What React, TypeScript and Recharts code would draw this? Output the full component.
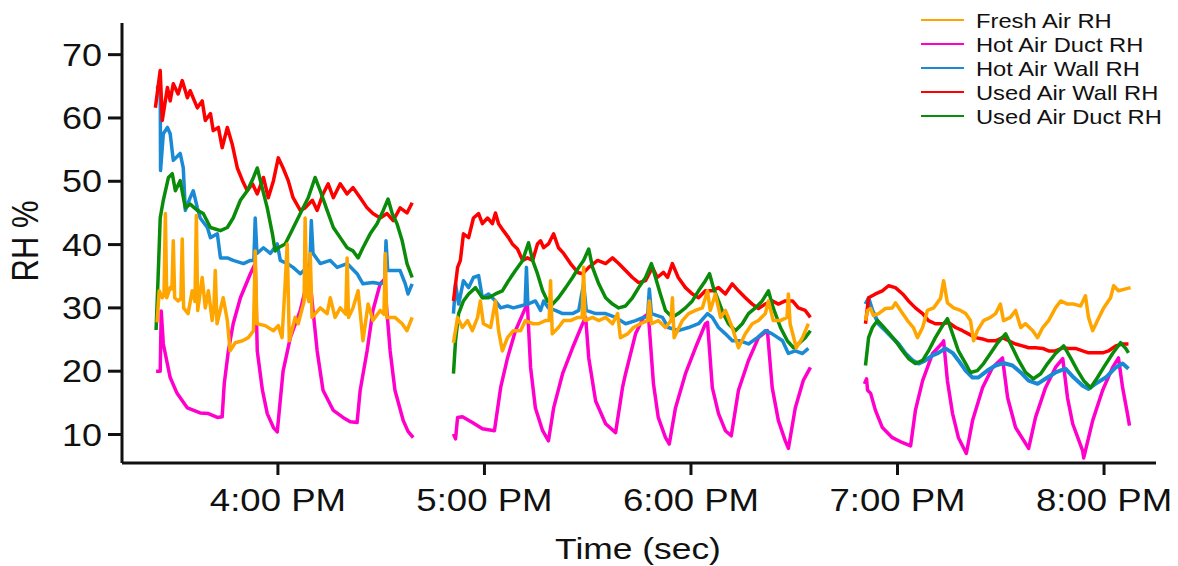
// RH over the afternoon: five sensors, three logging sessions with gaps between them.
import { LineChart, Line, XAxis, YAxis } from "recharts";

type Pt = [number, number]; // [minutes after 3:00 PM, RH %]

const SERIES_NAMES = ["Fresh Air RH", "Hot Air Duct RH", "Hot Air Wall RH", "Used Air Wall RH", "Used Air Duct RH"];
const SERIES_COLORS = ["#FFA500", "#FF00CC", "#1A8AD4", "#FF0000", "#0A8C0A"];
const X_TICKS = [60, 120, 180, 240, 300];
const Y_TICKS = [10, 20, 30, 40, 50, 60, 70];

// Fresh Air RH
const freshAir1: Pt[] = [[24.9,27.7],[25.5,32.7],[26.4,31.6],[26.9,32],[27.3,44.9],[27.7,31.6],[28.7,33.2],[29.2,33],[29.6,40.6],[30.0,31.6],[31.0,31.1],[31.8,31.5],[32.2,40.9],[32.6,30],[33.9,29.1],[35.1,32.7],[35.9,31],[36.3,44.6],[36.7,29.6],[38.0,34.8],[38.9,30],[39.8,32.7],[40.9,28],[41.4,30],[41.8,35.9],[42.3,27.5],[44.1,31.6],[45.3,28],[46.1,23.2],[47.6,24.5],[49.7,24.8],[51.4,25.3],[52.9,26.4],[53.4,39],[53.9,27.5],[56.3,27.2],[58.7,26.4],[60.1,27.2],[61.2,25.3],[62.1,33.8],[62.7,40.1],[63.3,24.8],[65.0,28.5],[65.9,27.5],[67.1,30],[67.6,31],[67.9,44.2],[68.4,32.2],[69.0,31],[69.4,38.6],[69.9,28.5],[72.3,30],[74.3,29.1],[75.2,31.6],[76.6,28.5],[78.1,30],[79.7,29],[80.1,37.9],[80.5,28.5],[81.8,30],[83.3,32.7],[84.7,24.8],[86.2,30.6],[87.6,28],[89.7,29.6],[90.8,29],[91.2,38.6],[91.6,28.5],[94.0,28.5],[96.1,27.5],[97.5,26.4],[99.0,28.5]];
const freshAir2: Pt[] = [[111.0,24.5],[112.2,28.5],[113.6,26.9],[115.1,28],[116.5,26.4],[118.0,28.5],[118.8,31.1],[119.7,27.5],[121.8,26.9],[123.2,31.1],[124.1,26.4],[125.2,23.2],[126.7,25.3],[128.4,26.4],[130.5,26.4],[131.9,28],[134.0,27.5],[135.7,27.5],[137.7,28],[138.8,28],[139.2,34.3],[139.7,25.9],[141.5,26.9],[143.0,28],[145.0,28],[147.1,28.5],[148.4,28.5],[148.8,36.4],[149.2,28],[151.4,28.5],[153.2,28],[155.2,28.5],[157.2,27.5],[158.7,29.1],[159.5,25.3],[161.6,25.9],[163.3,26.9],[165.3,27.5],[167.4,28],[167.9,31.1],[168.5,27.5],[170.5,28],[172.6,26.9],[174.2,28],[174.6,31.6],[175.1,25.3],[177.5,28],[179.3,29.1],[181.3,29.6],[183.3,30],[184.8,32.7],[185.6,29.6],[187.1,32.2],[188.6,28.5],[190.0,29.6],[192.0,26.9],[193.8,23.7],[195.8,25.9],[197.8,27.5],[199.6,28],[201.6,29.1],[202.5,31.1],[203.9,28],[206.0,28],[207.9,28.5],[208.3,32.2],[208.8,27.5],[210.6,23.7],[212.4,25.3],[214.1,27.5]];
const freshAir3: Pt[] = [[230.7,28],[231.3,29.6],[232.2,29.9],[233.0,28.8],[234.5,29.1],[236.5,29.9],[238.5,30],[239.4,30.8],[240.9,29.6],[242.9,28],[244.6,26.9],[245.8,25.3],[247.3,26.9],[248.7,29.6],[250.5,30],[252.5,31.5],[253.4,34.3],[254.5,30.8],[256.3,30],[258.3,29.6],[259.8,29.1],[261.2,28],[262.1,24.8],[263.2,26.4],[265.0,28],[267.0,28.5],[268.5,29.1],[269.9,30.6],[270.8,28],[272.8,28.5],[274.3,29.6],[275.8,26.9],[277.2,27.5],[279.3,26.4],[280.7,25.3],[282.2,26.9],[283.9,28],[285.9,30],[287.4,31.1],[289.4,30.6],[291.2,30.6],[293.2,30.3],[294.6,31.9],[295.5,28.5],[296.7,26.4],[298.1,28],[299.9,30],[301.9,31.6],[302.8,33.5],[304.2,32.7],[306.3,33],[307.7,33.2]];

// Hot Air Duct RH
const hotDuct1: Pt[] = [[24.6,20],[25.8,20],[26.1,29.5],[26.7,24.3],[28.7,19],[30.7,16.5],[33.7,14.2],[37.4,13.4],[39.8,13.3],[42.4,12.7],[43.8,12.8],[44.4,18],[45.6,23.2],[47.0,27.5],[49.1,31.6],[52.0,35.4],[53.4,37],[54.0,23.2],[55.5,17],[56.9,13.3],[58.7,11.1],[59.8,10.4],[61.5,20],[63.6,25.3],[66.5,29.6],[69.1,35.5],[71.4,23.2],[73.1,17],[76.1,13.8],[78.9,12.7],[81.0,12],[83.0,11.9],[83.9,17],[85.9,23.2],[87.6,29.6],[89.7,33.8],[90.9,34.5],[92.6,23.2],[94.0,17],[96.4,12.2],[97.8,10.5],[99.3,9.5]];
const hotDuct2: Pt[] = [[111.0,10.1],[111.6,9.3],[112.2,12.7],[113.6,12.8],[116.5,11.9],[119.4,10.9],[122.9,10.6],[124.7,17.4],[126.7,22.1],[129.0,26.4],[131.9,30],[132.5,30.3],[133.4,20.6],[134.8,14.2],[136.9,10.6],[138.6,9.0],[140.1,14.2],[142.7,19.6],[145.6,23.7],[148.5,27.5],[149.4,28.5],[150.3,22.1],[152.3,15.3],[155.2,11.7],[158.1,10.3],[160.1,17.4],[161.0,19.6],[163.9,25.9],[166.2,28.5],[167.6,29.1],[169.1,18],[170.5,12.7],[172.6,9.5],[173.7,8.5],[175.5,14.2],[178.4,19.6],[181.3,23.7],[184.2,27.5],[184.8,27.7],[186.2,17.4],[188.0,13.3],[190.0,10.6],[191.7,9.8],[193.8,17],[196.7,21.7],[199.6,25.3],[202.2,26.4],[203.6,17.4],[205.4,12.2],[207.4,9.0],[208.3,7.8],[210.3,14.2],[212.6,18.5],[214.7,20.6]];
const hotDuct3: Pt[] = [[230.4,18],[231.0,18.8],[231.3,17],[232.2,16.5],[233.6,13.8],[235.6,11.1],[238.5,9.5],[241.5,8.7],[243.8,8.2],[245.2,13.8],[247.3,18.5],[250.2,22.8],[253.1,24.5],[253.4,24.8],[254.5,18.5],[256.0,13.3],[257.7,9.5],[260.0,7.0],[261.8,12.2],[264.7,17.4],[267.6,20.6],[270.5,22.1],[272.0,15.8],[274.3,11.1],[278.1,7.8],[280.1,12.7],[283.0,17.4],[285.9,20.6],[288.0,22],[289.4,15.8],[290.9,11.7],[293.8,7.4],[294.1,6.3],[296.7,12.2],[299.6,17],[302.5,20.6],[304.2,22.1],[305.4,17.4],[306.8,13.3],[307.4,11.4]];

// Hot Air Wall RH
const hotWall1: Pt[] = [[24.9,64.6],[25.8,65.9],[25.9,51.7],[26.7,57.5],[27.9,58.5],[28.7,57.5],[29.6,53.3],[31.6,54.4],[32.5,52.1],[33.1,45.4],[34.5,47.4],[35.4,48.5],[36.6,45.8],[37.4,44.2],[39.5,42.7],[40.4,41.1],[42.4,41.7],[43.3,37.9],[45.3,37.9],[47.0,37.5],[50.0,37],[52.0,37.5],[53.0,37.5],[53.4,44.2],[53.9,38.6],[55.8,39.5],[57.8,38.6],[59.8,40.1],[60.7,37.5],[62.7,37],[64.4,36.4],[66.5,35.4],[68.5,36.4],[69.3,37],[69.7,43.8],[70.2,38.6],[72.3,37],[75.2,37.5],[77.2,36.4],[80.1,37],[83.0,35.4],[84.7,33.8],[87.6,34],[89.7,33.8],[91.0,34],[91.4,40.6],[91.9,35.9],[95.5,35.9],[97.0,33.8],[97.8,32.2],[99.0,33.8]];
const hotWall2: Pt[] = [[111.0,29.1],[111.6,33.8],[112.5,30.6],[113.9,34.3],[115.4,33.2],[116.8,34.8],[118.3,35.1],[119.4,31.6],[121.2,32.2],[123.2,31.1],[124.7,30],[126.7,30.3],[128.4,30],[130.5,30.3],[131.8,30.5],[132.2,36.4],[132.6,30.6],[134.8,31.1],[136.3,29.6],[137.2,31.1],[138.6,30],[140.6,29.6],[142.7,29.1],[145.6,29.1],[147.4,29.6],[148.8,33.8],[149.6,29.6],[152.3,29.1],[155.2,29.1],[158.1,28.5],[161.0,27.5],[163.9,28],[166.2,28.5],[167.4,28.6],[167.9,33],[168.5,29.1],[171.7,28.5],[173.4,26.9],[176.3,26.4],[179.3,26.9],[182.2,27.5],[184.8,29.1],[186.2,28.5],[188.0,26.9],[190.0,25.9],[192.0,24.8],[194.3,24.8],[196.7,24.3],[199.3,25.3],[201.6,26.4],[203.6,25.9],[206.6,24.8],[208.3,22.8],[210.3,23.2],[212.4,22.8],[214.1,23.6]];
const hotWall3: Pt[] = [[230.7,30.6],[231.6,31.5],[232.7,29.6],[234.5,27.5],[236.5,26.4],[238.5,25.3],[240.3,24.3],[242.3,22.8],[244.4,21.7],[246.1,21.2],[248.1,21.7],[250.2,22.5],[251.9,22.9],[253.9,23.6],[256.0,22.9],[257.7,21.7],[259.8,20.1],[261.8,19],[263.5,19],[266.1,20.1],[268.5,20.9],[270.8,21.3],[273.4,20.9],[275.8,19.8],[278.1,18.5],[280.7,18],[283.0,18.8],[285.9,19.8],[288.8,20.4],[291.2,19],[293.8,17.7],[295.5,17.2],[297.5,18],[300.5,19],[303.4,20.6],[305.4,21.2],[307.1,20.4]];

// Used Air Wall RH
const usedWall1: Pt[] = [[24.4,61.6],[25.8,67.5],[26.4,59.6],[27.9,64.8],[28.7,62.7],[29.6,65.4],[31.0,63.8],[32.2,65.9],[33.7,63.2],[34.5,64.3],[36.6,61.6],[38.0,62.7],[38.9,59.6],[40.4,60.7],[41.2,58],[42.7,58.5],[43.8,55.3],[45.3,58.5],[46.7,55.9],[48.2,52.1],[49.7,50.1],[51.1,48.5],[52.6,49.6],[54.0,48],[55.8,50.6],[57.2,47.4],[58.7,50.1],[60.1,53.7],[61.5,52.1],[63.0,50.1],[64.4,47.4],[66.5,45.4],[67.9,45.8],[70.0,47],[71.4,45.4],[73.1,48],[74.6,49.6],[76.1,47.4],[78.1,49.6],[80.1,48],[81.8,49],[83.9,47.4],[85.9,45.8],[87.6,44.9],[89.7,44.2],[91.7,44.9],[93.5,43.8],[95.5,45.8],[97.5,45],[99.0,46.6]];
const usedWall2: Pt[] = [[111.0,31.1],[112.2,36.4],[113.0,37.5],[113.9,41.7],[115.4,41.1],[116.8,44.2],[118.3,44.9],[119.4,43.3],[120.9,44.2],[122.3,43.3],[123.2,45],[124.1,43.3],[125.5,42.2],[127.0,41.1],[128.1,40.1],[129.6,39.3],[131.1,37.5],[132.5,37.9],[134.0,37.5],[135.4,40.1],[136.3,40.6],[137.2,39.5],[138.6,40.1],[140.1,41.7],[141.5,39.5],[143.0,38.6],[145.0,37],[147.1,35.6],[148.5,35.4],[150.3,36.4],[152.9,37.5],[155.2,37],[157.2,37.9],[159.0,37],[161.0,35.9],[163.0,34.8],[164.8,34],[166.8,34.3],[168.8,36.4],[170.2,34.8],[172.0,35.6],[173.2,34.8],[174.6,37],[176.3,34.8],[178.4,33.2],[180.4,32.2],[182.2,31.6],[184.2,32.7],[186.2,32.7],[188.0,33.2],[190.0,32.2],[192.0,33.8],[193.8,32.7],[195.8,31.6],[197.8,30.6],[199.6,29.9],[201.6,30.6],[203.6,31.1],[205.4,30.6],[207.4,31.1],[209.5,31.1],[211.2,30],[213.2,29.6],[214.7,28.5]];
const usedWall3: Pt[] = [[230.7,27.5],[231.6,31.6],[233.6,32.2],[235.6,32.7],[237.4,33.5],[239.4,33.2],[241.5,32.2],[243.2,31.1],[245.2,30],[247.3,29.1],[249.0,28],[251.0,27.5],[253.1,27.5],[254.8,27.7],[256.9,26.9],[258.9,26.4],[260.6,25.9],[262.7,25.3],[264.7,25.1],[266.4,24.8],[268.5,24.8],[270.5,25.3],[272.3,24.8],[274.3,24.3],[276.3,24],[278.1,23.7],[280.1,23.7],[282.2,23.6],[283.9,23.2],[285.9,23.2],[288.0,23.7],[289.7,23.6],[291.7,23.6],[293.8,23.2],[295.5,22.9],[297.5,22.9],[299.6,22.9],[301.3,23.2],[303.4,24],[305.4,24.3],[307.1,24.3]];

// Used Air Duct RH
const usedDuct1: Pt[] = [[24.6,26.5],[25.2,35],[25.8,44.2],[26.7,47],[28.2,50.6],[29.3,51.2],[30.2,48.5],[31.6,50.1],[33.1,45.8],[34.5,46.4],[36.6,45.4],[38.3,44.9],[40.4,42.7],[43.3,42.2],[45.3,42.7],[47.0,44.2],[49.1,47],[51.1,48.5],[52.9,50.6],[54.0,52.1],[54.9,50.1],[56.9,45.8],[58.4,41.7],[59.2,39],[60.1,39.5],[62.1,40.1],[63.6,41.7],[66.5,44.9],[68.8,47.4],[70.8,50.6],[72.3,48.5],[74.3,45.4],[76.1,42.7],[78.1,41.1],[80.1,39.5],[81.8,39],[83.3,37.9],[84.7,39.5],[86.8,41.7],[88.8,43.3],[90.6,45.4],[92.0,47.2],[93.2,44.9],[94.6,43.3],[96.1,40.6],[97.5,37],[99.0,34.8]];
const usedDuct2: Pt[] = [[111.0,19.6],[111.6,24.8],[112.5,29.1],[113.9,31.1],[115.4,32.2],[117.4,33.2],[119.4,31.6],[121.2,31.6],[123.2,32.2],[125.2,32.7],[127.0,34.3],[129.0,35.9],[131.1,37.5],[132.8,40.3],[134.0,37.5],[135.4,35.4],[136.9,32.7],[138.3,31.1],[139.8,30.6],[141.5,31.6],[143.6,33.2],[145.6,34.8],[147.4,36.4],[148.8,37.5],[150.3,39.3],[151.4,36.4],[153.2,33.8],[155.2,31.6],[157.2,30.6],[159.0,30],[161.0,30.3],[163.0,31.6],[164.8,33.2],[166.8,34.8],[168.5,37],[169.7,34.8],[171.1,32.2],[172.6,29.6],[174.6,28.5],[176.3,29.1],[178.4,30],[180.4,31.1],[182.2,32.7],[184.2,34.3],[185.4,35.4],[186.5,33.2],[188.0,31.1],[189.4,29.1],[190.9,27.5],[192.9,26.4],[194.9,27.5],[196.7,29.1],[198.7,30],[200.7,31.1],[202.5,32.7],[203.9,30],[206.0,26.9],[208.0,24.8],[209.8,23.7],[211.2,24.3],[213.2,25.3],[214.7,26.4]];
const usedDuct3: Pt[] = [[230.7,20.9],[231.6,25.3],[232.7,26.9],[234.2,28],[235.6,27.2],[237.4,26.1],[239.4,24.8],[241.5,23.2],[243.2,22],[245.2,21.2],[247.3,21.7],[249.0,23.2],[251.0,25.3],[253.1,27.2],[254.5,28.3],[256.0,25.9],[257.7,23.2],[259.8,21.2],[261.2,19.8],[263.2,20.1],[265.0,21.2],[267.0,22.8],[269.1,24.5],[271.4,25.9],[273.4,23.7],[275.2,21.7],[277.2,19.8],[279.5,18.8],[281.6,19.6],[283.6,21.2],[285.9,22.8],[288.3,24],[290.3,22.1],[292.3,20.1],[294.1,18.5],[296.1,17.4],[298.1,19],[299.9,20.6],[302.5,22.8],[304.8,24.5],[306.3,23.6],[307.1,22.9]];

// legend order: fresh, hot duct, hot wall, used wall, used duct
const SEGMENTS: Pt[][][] = [
  [freshAir1, freshAir2, freshAir3],
  [hotDuct1, hotDuct2, hotDuct3],
  [hotWall1, hotWall2, hotWall3],
  [usedWall1, usedWall2, usedWall3],
  [usedDuct1, usedDuct2, usedDuct3],
];
const DRAW_ORDER = [1, 2, 3, 4, 0]; // orange ends up on top

const FONT = "'Liberation Sans', Arial, sans-serif";
const STRETCH = 1.18; // the source image is a bit wide

const fmtTime = (t: number) => `${3 + Math.round(t / 60)}:00 PM`;

function XTick({ x, y, payload }: any) {
  return (
    <text transform={`translate(${x},${y + 36}) scale(${STRETCH},1)`} textAnchor="middle"
      fontFamily={FONT} fontSize={31} fill="#111">
      {fmtTime(payload.value)}
    </text>
  );
}

function YTick({ x, y, payload }: any) {
  return (
    <text transform={`translate(${x},${y + 11}) scale(${STRETCH},1)`} textAnchor="end"
      fontFamily={FONT} fontSize={30.5} fill="#111">
      {payload.value}
    </text>
  );
}

export default function App() {
  return (
    <div style={{ position: "absolute", left: 0, top: 0, width: 1178, height: 566, background: "#fff" }}>
      <LineChart width={1178} height={566} margin={{ top: 23, right: 22, bottom: 43, left: 62 }}>
        <XAxis
          type="number"
          dataKey="t"
          domain={[14.7, 315.1]}
          ticks={X_TICKS}
          allowDataOverflow
          height={60}
          tickSize={12}
          tickMargin={0}
          axisLine={{ stroke: "#111", strokeWidth: 3 }}
          tickLine={{ stroke: "#111", strokeWidth: 3 }}
          tick={<XTick />}
        />
        <YAxis
          type="number"
          domain={[5.5, 75]}
          ticks={Y_TICKS}
          allowDataOverflow
          width={60}
          tickSize={14}
          tickMargin={6}
          axisLine={{ stroke: "#111", strokeWidth: 3 }}
          tickLine={{ stroke: "#111", strokeWidth: 3 }}
          tick={<YTick />}
        />
        {DRAW_ORDER.flatMap((si) =>
          SEGMENTS[si].map((seg, k) => (
            <Line
              key={`${si}-${k}`}
              data={seg.map(([t, v]) => ({ t, v }))}
              dataKey="v"
              type="linear"
              stroke={SERIES_COLORS[si]}
              strokeWidth={si === 2 && k === 2 ? 4 : 3.5}
              strokeLinejoin="round"
              dot={false}
              activeDot={false}
              isAnimationActive={false}
            />
          )),
        )}
      </LineChart>

      <svg width={1178} height={566} style={{ position: "absolute", left: 0, top: 0, pointerEvents: "none" }}>
        <text transform={`translate(25,241) scale(${STRETCH},1) rotate(-90)`} textAnchor="middle"
          dominantBaseline="central" fontFamily={FONT} fontSize={31} fill="#111">
          RH %
        </text>
        <text transform={`translate(638,559) scale(${STRETCH},1)`} textAnchor="middle"
          fontFamily={FONT} fontSize={30} fill="#111">
          Time (sec)
        </text>
        {SERIES_NAMES.map((name, i) => {
          const y = 20 + i * 24;
          return (
            <g key={name}>
              <line x1={921} x2={964} y1={y} y2={y} stroke={SERIES_COLORS[i]} strokeWidth={2} />
              <text transform={`translate(976,${y + 7.5}) scale(1.13,1)`} fontFamily={FONT}
                fontSize={21} fill="#111">
                {name}
              </text>
            </g>
          );
        })}
      </svg>
    </div>
  );
}
